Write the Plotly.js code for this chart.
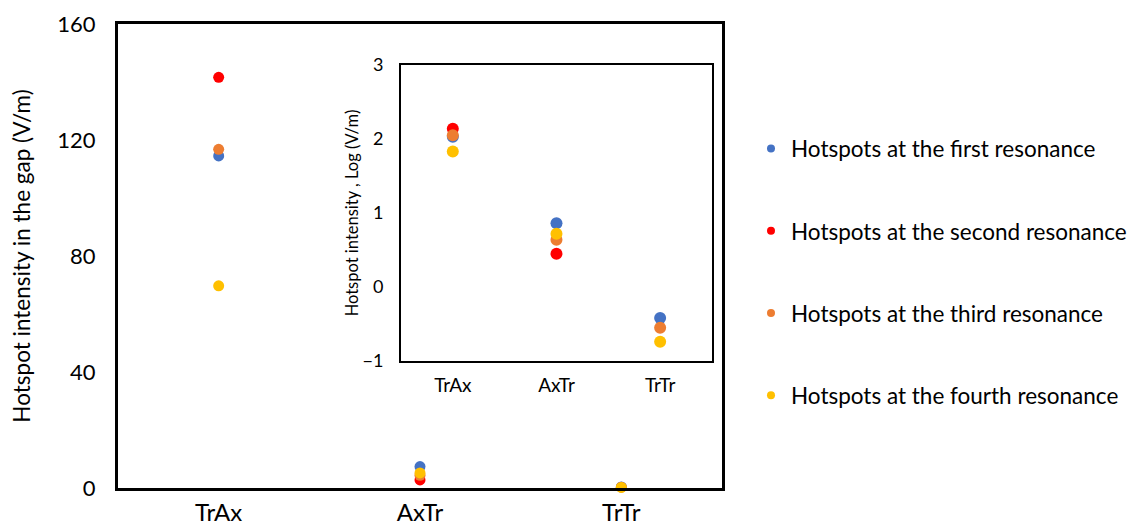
<!DOCTYPE html>
<html>
<head>
<meta charset="utf-8">
<script src="https://cdn.plot.ly/plotly-3.0.1.min.js"></script>
<style>
  html, body { margin: 0; padding: 0; background: #ffffff; }
  #chart { width: 1130px; height: 527px; }
</style>
</head>
<body>
<div id="chart"></div>
<script>
// Gap configurations
const categories = ['TrAx', 'AxTr', 'TrTr'];

// Series names
const seriesNames = [
  'Hotspots at the first resonance',
  'Hotspots at the second resonance',
  'Hotspots at the third resonance',
  'Hotspots at the fourth resonance'
];
const seriesColors = ['#4472C4', '#FF0000', '#ED7D31', '#FFC000'];

// Hotspot intensity in the gap (V/m)
const firstRes  = [114.5, 7.4, 0.38];
const secondRes = [141.6, 2.8, null];
const thirdRes  = [116.8, 4.4, 0.28];
const fourthRes = [69.7, 5.2, 0.18];

// Hotspot intensity, log10 (V/m)
const firstResLog  = [2.03, 0.86, -0.42];
const secondResLog = [2.14, 0.45, null];
const thirdResLog  = [2.05, 0.64, -0.55];
const fourthResLog = [1.83, 0.72, -0.74];

// Axis ticks
const mainTicks = [0, 40, 80, 120, 160];
const insetTicks = [-1, 0, 1, 2, 3];

const linearSets = [firstRes, secondRes, thirdRes, fourthRes];
const logSets = [firstResLog, secondResLog, thirdResLog, fourthResLog];

const FONT = 'Lato, "Open Sans", sans-serif';
const traces = [];

linearSets.forEach((vals, i) => {
  traces.push({
    type: 'scatter', mode: 'markers',
    x: categories, y: vals,
    xaxis: 'x', yaxis: 'y',
    marker: { color: seriesColors[i], size: 11 },
    name: seriesNames[i], showlegend: false,
    cliponaxis: false
  });
});

logSets.forEach((vals, i) => {
  traces.push({
    type: 'scatter', mode: 'markers',
    x: categories, y: vals,
    xaxis: 'x2', yaxis: 'y2',
    marker: { color: seriesColors[i], size: 12 },
    name: seriesNames[i], showlegend: false
  });
});

// Legend entries, with smaller symbols than the plotted markers
seriesNames.forEach((name, i) => {
  traces.push({
    type: 'scatter', mode: 'markers',
    x: [null], y: [null],
    xaxis: 'x', yaxis: 'y',
    marker: { color: seriesColors[i], size: 8 },
    name: name, legendgroup: 'g' + i, showlegend: true
  });
});

const layout = {
  width: 1130, height: 527,
  margin: { l: 118, r: 408, t: 24, b: 39, autoexpand: false },
  paper_bgcolor: '#ffffff',
  plot_bgcolor: 'rgba(0,0,0,0)',
  font: { family: FONT, color: '#000000' },
  showlegend: true,
  legend: {
    x: 1.048, xanchor: 'left',
    y: 0.777, yanchor: 'top',
    font: { family: FONT, size: 22.5, color: '#000000' },
    tracegroupgap: 50,
    bgcolor: 'rgba(0,0,0,0)',
    itemclick: false
  },
  xaxis: {
    domain: [0, 1],
    type: 'category',
    categoryorder: 'array', categoryarray: categories,
    range: [-0.5, 2.5],
    showline: true, mirror: true, linecolor: '#000000', linewidth: 3,
    showgrid: false, zeroline: false,
    ticks: '', ticklabelstandoff: 1,
    tickfont: { family: FONT, size: 24, color: '#000000' }
  },
  yaxis: {
    domain: [0, 1],
    range: [0, 160],
    tickvals: mainTicks,
    showline: true, mirror: true, linecolor: '#000000', linewidth: 3,
    showgrid: false, zeroline: false,
    ticks: '', ticklabelstandoff: 15,
    tickfont: { family: FONT, size: 22, color: '#000000' },
    title: {
      text: 'Hotspot intensity in the gap (V/m)',
      font: { family: FONT, size: 22.5, color: '#000000' },
      standoff: 21
    }
  },
  xaxis2: {
    domain: [0.4685, 0.9834],
    anchor: 'y2',
    type: 'category',
    categoryorder: 'array', categoryarray: categories,
    range: [-0.5, 2.5],
    showline: true, mirror: true, linecolor: '#000000', linewidth: 2,
    showgrid: false, zeroline: false,
    ticks: '', ticklabelstandoff: 6,
    tickfont: { family: FONT, size: 19, color: '#000000' }
  },
  yaxis2: {
    domain: [0.2737, 0.9116],
    anchor: 'x2',
    range: [-1, 3],
    tickvals: insetTicks,
    showline: true, mirror: true, linecolor: '#000000', linewidth: 2,
    showgrid: false, zeroline: false,
    ticks: '', ticklabelstandoff: 12,
    tickfont: { family: FONT, size: 18, color: '#000000' },
    title: {
      text: 'Hotspot intensity , Log (V/m)',
      font: { family: FONT, size: 16.5, color: '#000000' },
      standoff: 0
    }
  }
};

Plotly.newPlot('chart', traces, layout, { displayModeBar: false, staticPlot: true });
</script>
</body>
</html>
